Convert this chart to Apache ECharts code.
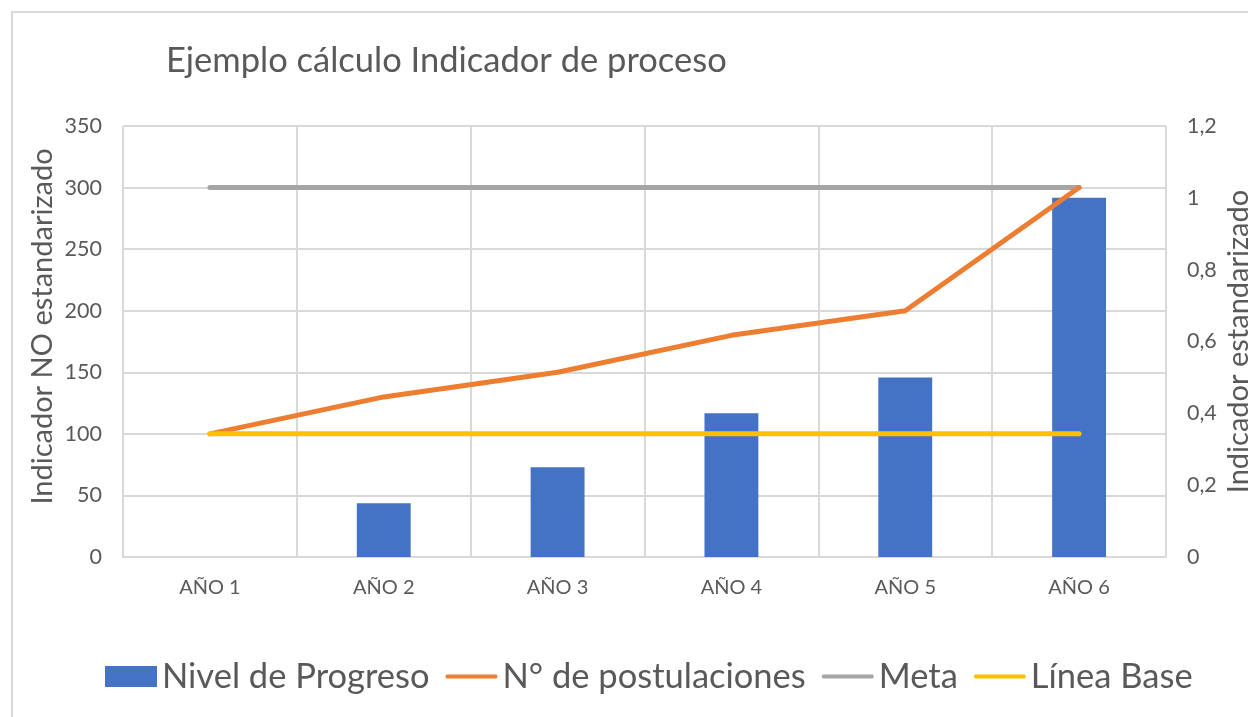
<!DOCTYPE html>
<html>
<head>
<meta charset="utf-8">
<script src="https://cdn.jsdelivr.net/npm/echarts@6/dist/echarts.min.js"></script>
<style>
  html, body { margin: 0; padding: 0; background: #fff; }
  #frame { position: absolute; left: 11px; top: 11px; width: 1400px; height: 900px; border: 2px solid #d9d9d9; }
  #main { position: absolute; left: 0; top: 0; width: 1248px; height: 717px; }
</style>
</head>
<body>
<div id="frame"></div>
<div id="main"></div>
<script>
const anios = ['AÑO 1', 'AÑO 2', 'AÑO 3', 'AÑO 4', 'AÑO 5', 'AÑO 6'];
const nivelProgreso = [0, 0.15, 0.25, 0.4, 0.5, 1.0];   // eje derecho
const postulaciones = [100, 130, 150, 180, 200, 300];
const meta = [300, 300, 300, 300, 300, 300];
const lineaBase = [100, 100, 100, 100, 100, 100];

const fuente = 'Lato, "Open Sans", sans-serif';
const gris = '#595959';
// icono de linea fina dentro de una caja de 50x20
const iconoLinea = 'path://M0,0 M50,20 M1,8 L49,8 Q51,10 49,12 L1,12 Q-1,10 1,8 Z';

let myChart = echarts.init(document.getElementById('main'));
let option = {
    animation: false,
    textStyle: { fontFamily: fuente },
    title: {
        text: 'Ejemplo cálculo Indicador de proceso',
        left: 161,
        top: 38,
        textStyle: { fontSize: 34.5, fontWeight: 'normal', color: gris, fontFamily: fuente }
    },
    grid: { left: 123, right: 82, top: 126, bottom: 160, outerBoundsMode: 'none', containLabel: false },
    legend: {
        bottom: 18,
        left: 100,
        itemWidth: 52,
        itemHeight: 21,
        itemGap: 16,
        textStyle: { fontSize: 34.5, color: gris, padding: [0, 0, 0, 0] },
        data: [
            { name: 'Nivel de Progreso', icon: 'rect' },
            { name: 'N° de postulaciones', icon: iconoLinea },
            { name: 'Meta', icon: iconoLinea },
            { name: 'Línea Base', icon: iconoLinea }
        ]
    },
    xAxis: {
        type: 'category',
        data: anios,
        axisLine: { lineStyle: { color: '#d9d9d9', width: 2 } },
        axisTick: { show: false },
        axisLabel: { color: gris, fontSize: 20, margin: 21 },
        splitLine: { show: true, lineStyle: { color: '#d9d9d9', width: 2 } }
    },
    yAxis: [
        {
            type: 'value',
            min: 0, max: 350, interval: 50,
            name: 'Indicador NO estandarizado',
            nameLocation: 'middle',
            nameGap: 66,
            nameMoveOverlap: false,
            nameTextStyle: { fontSize: 29, color: gris, padding: [0, 0, 0, 30] },
            axisLine: { show: false },
            axisTick: { show: false },
            axisLabel: { color: gris, fontSize: 21.5, margin: 21 },
            splitLine: { lineStyle: { color: '#d9d9d9', width: 2 } }
        },
        {
            type: 'value',
            min: 0, max: 1.2, interval: 0.2,
            name: 'Indicador estandarizado',
            nameLocation: 'middle',
            nameGap: 58,
            nameMoveOverlap: false,
            nameTextStyle: { fontSize: 29, color: gris },
            axisLine: { show: false },
            axisTick: { show: false },
            axisLabel: {
                color: gris, fontSize: 21.5, margin: 21,
                formatter: v => String(Math.round(v * 10) / 10).replace('.', ',')
            },
            splitLine: { show: false }
        }
    ],
    series: [
        {
            name: 'Nivel de Progreso',
            type: 'bar',
            yAxisIndex: 1,
            data: nivelProgreso,
            barWidth: '31%',
            itemStyle: { color: '#4472c4' }
        },
        {
            name: 'N° de postulaciones',
            type: 'line',
            data: postulaciones,
            symbol: 'none',
            lineStyle: { color: '#ed7d31', width: 5, cap: 'round', join: 'round' },
            itemStyle: { color: '#ed7d31' }
        },
        {
            name: 'Meta',
            type: 'line',
            data: meta,
            symbol: 'none',
            lineStyle: { color: '#a5a5a5', width: 5, cap: 'round' },
            itemStyle: { color: '#a5a5a5' },
            z: 1
        },
        {
            name: 'Línea Base',
            type: 'line',
            data: lineaBase,
            symbol: 'none',
            lineStyle: { color: '#ffc000', width: 5, cap: 'round' },
            itemStyle: { color: '#ffc000' }
        }
    ]
};
option && myChart.setOption(option);
</script>
</body>
</html>
